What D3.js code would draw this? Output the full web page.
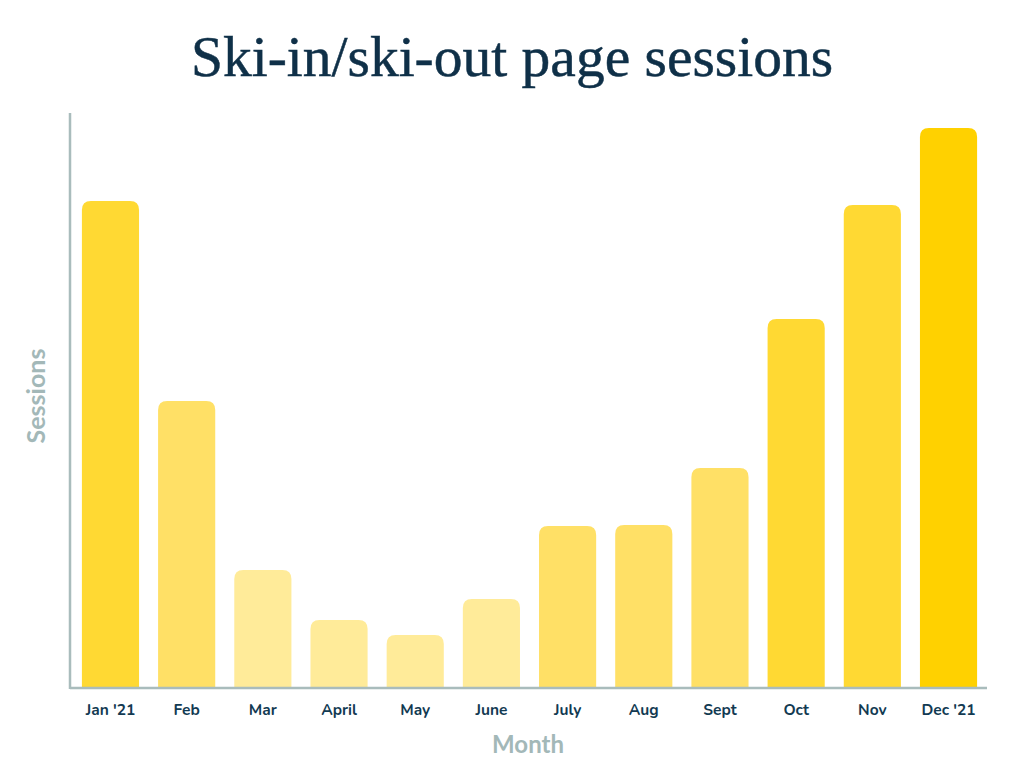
<!DOCTYPE html>
<html><head><meta charset="utf-8">
<script src="https://cdn.jsdelivr.net/npm/d3@7"></script>
<style>body{margin:0;background:#fff}</style>
</head><body>
<svg id="c" width="1024" height="768"></svg>
<script>
const months = ["Jan '21","Feb","Mar","April","May","June","July","Aug","Sept","Oct","Nov","Dec '21"];
const sessions = [487, 287, 118, 68, 53, 89, 162, 163, 220, 369, 483, 560];
const shades = ["#FFD933","#FFE066","#FFEB99","#FFEB99","#FFEB99","#FFEB99","#FFE066","#FFE066","#FFE066","#FFD933","#FFD933","#FFD100"];

const svg = d3.select("#c");
const x0 = 70, x1 = 987, yTop = 113, yBase = 688;
const x = d3.scaleBand().domain(months).range([72, 987]).paddingInner(0.25).paddingOuter(0.13);
const y = d3.scaleLinear().domain([0, 575]).range([yBase, yTop]);

function topRounded(xp, yp, w, h, r) {
  r = Math.min(r, h, w/2);
  return `M${xp},${yp+h}V${yp+r}Q${xp},${yp} ${xp+r},${yp}H${xp+w-r}Q${xp+w},${yp} ${xp+w},${yp+r}V${yp+h}Z`;
}

svg.selectAll("path.bar").data(months).enter().append("path")
  .attr("class","bar")
  .attr("fill",(d,i)=>shades[i])
  .attr("d",(d,i)=>topRounded(x(d), y(sessions[i]), x.bandwidth(), yBase - y(sessions[i]), 9));

// axes
const xAxis = svg.append("g").attr("transform",`translate(0,${yBase})`)
  .call(d3.axisBottom(x).tickSize(0).tickPadding(16));
xAxis.select(".domain").remove();
xAxis.selectAll("text").attr("font-family","Nunito, Lato, 'Open Sans', sans-serif")
  .attr("font-weight","700").attr("font-size","15.5px").attr("fill","#123a52");

svg.append("line").attr("x1",x0).attr("x2",x1).attr("y1",yBase).attr("y2",yBase)
  .attr("stroke","#a9bcbc").attr("stroke-width",2.5);
svg.append("line").attr("x1",x0).attr("x2",x0).attr("y1",yTop).attr("y2",yBase+1)
  .attr("stroke","#a9bcbc").attr("stroke-width",2.5);

svg.append("text").attr("x",512).attr("y",76).attr("text-anchor","middle")
  .attr("font-family","'Liberation Serif', 'DejaVu Serif', serif").attr("font-size","57.5px")
  .attr("stroke","#0f3048").attr("stroke-width",0.5)
  .attr("fill","#0f3048").text("Ski-in/ski-out page sessions");

svg.append("text").attr("x",528).attr("y",753).attr("text-anchor","middle")
  .attr("font-family","Lato, 'Open Sans', sans-serif").attr("font-weight","700").attr("font-size","24px")
  .attr("fill","#a3b8b8").text("Month");

svg.append("text").attr("transform","translate(45,396) rotate(-90)").attr("text-anchor","middle")
  .attr("font-family","Lato, 'Open Sans', sans-serif").attr("font-weight","700").attr("font-size","25px")
  .attr("fill","#a3b8b8").text("Sessions");
</script>
</body></html>
